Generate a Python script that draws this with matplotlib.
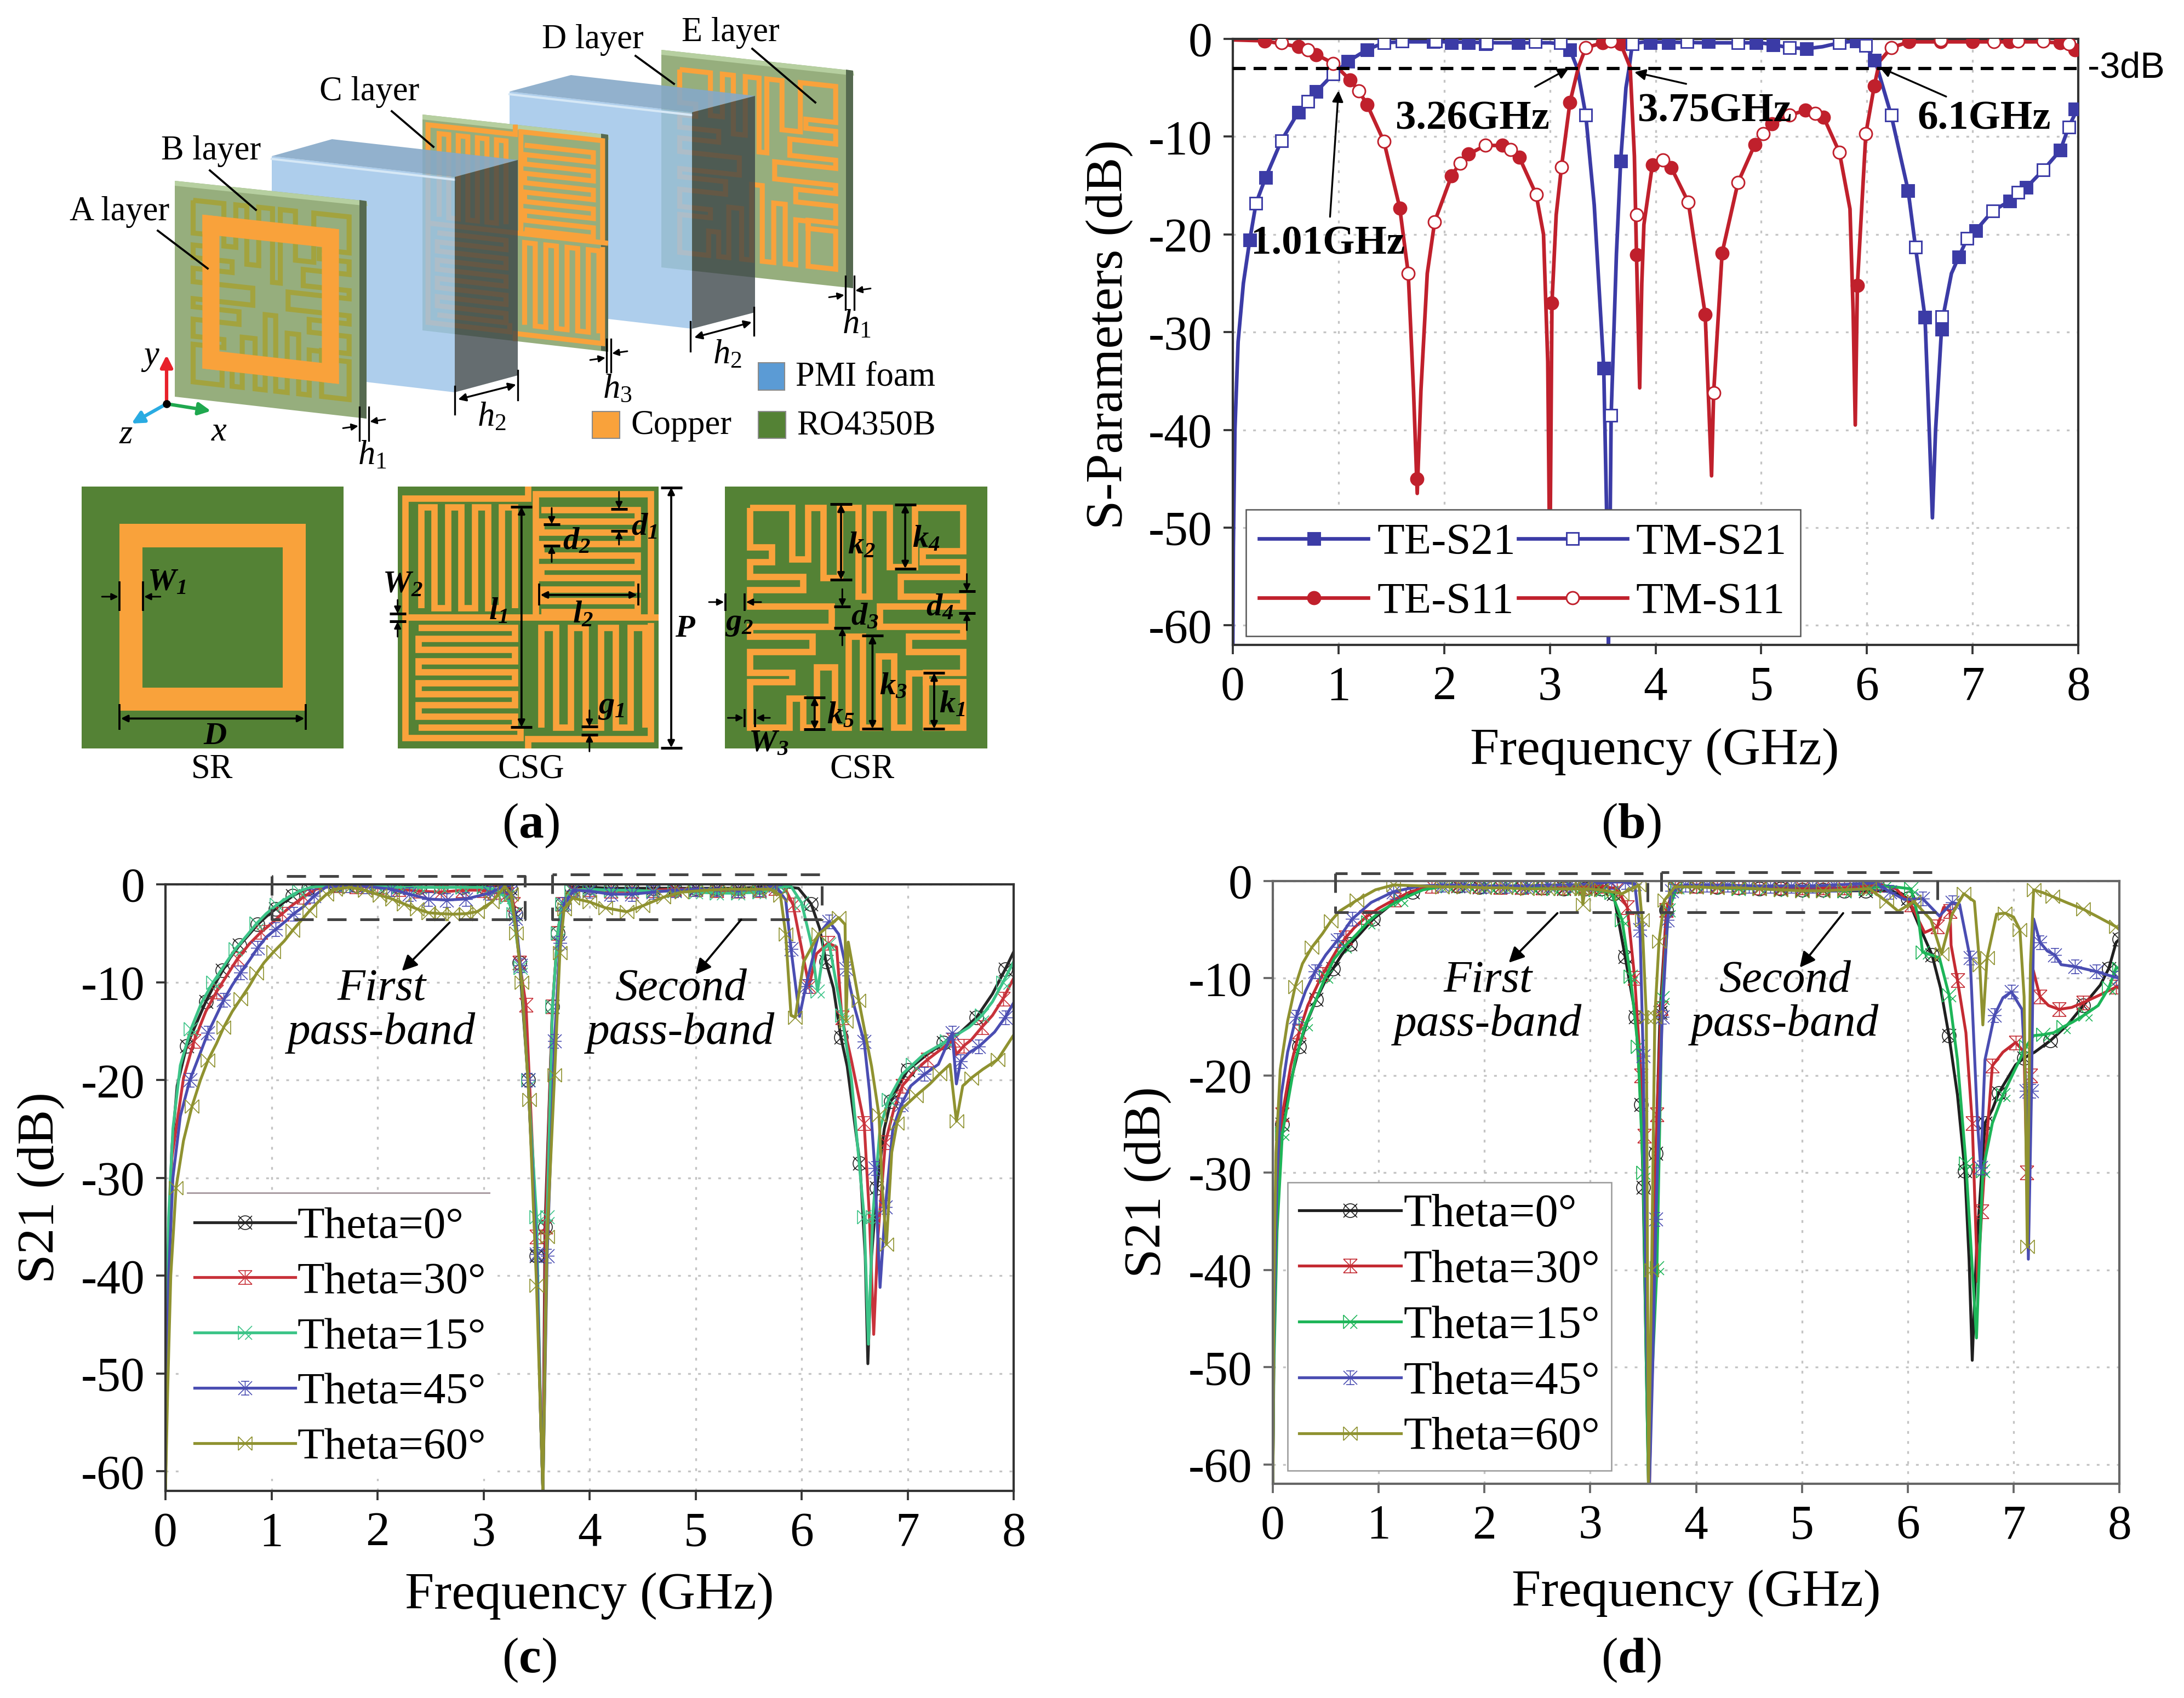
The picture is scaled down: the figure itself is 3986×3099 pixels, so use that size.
import matplotlib
matplotlib.use('Agg')
import matplotlib.pyplot as plt
import numpy as np
from matplotlib.path import Path
from matplotlib.patches import Polygon, Rectangle

W, H = 3986, 3099

plt.rcParams['font.family'] = ['Liberation Serif', 'DejaVu Sans']
plt.rcParams['axes.unicode_minus'] = False
plt.rcParams['mathtext.fontset'] = 'custom'
plt.rcParams['mathtext.rm'] = 'Liberation Serif'
plt.rcParams['mathtext.it'] = 'Liberation Serif:italic'
plt.rcParams['mathtext.bf'] = 'Liberation Serif:bold'
plt.rcParams['mathtext.cal'] = 'Liberation Serif:italic:bold'

freq_ticks = [0, 1, 2, 3, 4, 5, 6, 7, 8]
db_ticks = [0, -10, -20, -30, -40, -50, -60]

# panel b, line shapes (GHz, dB)
b_s21 = [(0, -62), (.005, -52), (.02, -40), (.05, -31), (.1, -25), (.16, -20.6), (.22, -16.8), (.31, -14.2), (.46, -10.4),
         (.62, -7.5), (.71, -6.4), (.79, -5.4), (.95, -3.6), (1.09, -2.3), (1.27, -1.1), (1.43, -.4), (1.6, -.3), (2, -.3),
         (2.5, -.4), (3, -.4), (3.1, -.5), (3.19, -1.1), (3.26, -3), (3.34, -7.8), (3.42, -17), (3.51, -33.7), (3.54, -50),
         (3.555, -62), (3.57, -50), (3.58, -38.5), (3.63, -22), (3.67, -12.5), (3.72, -5), (3.75, -3), (3.78, -.5), (3.9, -.3),
         (4.5, -.4), (5, -.4), (5.11, -.6), (5.27, -.9), (5.43, -1), (5.58, -.8), (5.74, -.4), (5.9, -.2), (5.99, -.7),
         (6.07, -2.2), (6.1, -3), (6.23, -7.8), (6.39, -15.5), (6.46, -21.3), (6.55, -28.5), (6.59, -40), (6.62, -49),
         (6.65, -40), (6.71, -29), (6.8, -24), (6.87, -22.3), (6.95, -20.4), (7.03, -19.6), (7.19, -17.6), (7.35, -16.6),
         (7.42, -15.7), (7.51, -15.2), (7.67, -13.4), (7.83, -11.4), (7.91, -9), (8, -7)]
b_s11 = [(0, -.1), (.3, -.2), (.62, -.8), (.71, -1.1), (.79, -1.6), (.95, -2.5), (1.11, -4.2), (1.19, -5.3), (1.27, -6.7),
         (1.43, -10.5), (1.58, -17.3), (1.66, -24), (1.71, -36), (1.745, -46.5), (1.78, -36), (1.84, -24), (1.91, -18.7),
         (2.07, -14), (2.15, -12.7), (2.23, -11.8), (2.39, -10.9), (2.55, -10.9), (2.63, -11.3), (2.71, -12.1), (2.87, -15.9),
         (2.94, -20), (2.98, -33), (3.0, -55), (3.02, -27), (3.06, -18), (3.11, -13.1), (3.19, -6.5), (3.27, -2.9), (3.34, -.9),
         (3.5, -.4), (3.58, -.2), (3.67, -.5), (3.76, -2.9), (3.8, -12), (3.82, -22.1), (3.85, -35.7), (3.87, -25), (3.89, -19),
         (3.97, -12.9), (4.07, -12.4), (4.15, -13.2), (4.31, -16.7), (4.47, -28.2), (4.53, -44.7), (4.55, -36.2), (4.63, -21.9),
         (4.78, -14.7), (4.94, -10.8), (5.02, -9.7), (5.1, -8.7), (5.27, -7.8), (5.42, -7.3), (5.51, -7.6), (5.59, -8),
         (5.74, -11.6), (5.84, -17.4), (5.87, -28), (5.89, -39.5), (5.91, -25.2), (5.99, -9.7), (6.07, -4.8), (6.12, -2.3),
         (6.23, -.9), (6.4, -.3), (7, -.3), (7.6, -.3), (7.83, -.4), (8, -1.3)]

# panel b, marker points
b_te_s21_marks = [(.16, -20.6), (.31, -14.2), (.62, -7.5), (.79, -5.4), (1.09, -2.3), (1.27, -1.1), (1.9, -.3), (2.07, -.4), (2.23, -.4),
                  (2.39, -.5), (2.7, -.4), (3.19, -1.1), (3.51, -33.7), (3.67, -12.5), (3.95, -.4), (4.12, -.4), (4.5, -.3),
                  (4.95, -.4), (5.11, -.6), (5.43, -1), (5.9, -.2), (6.07, -2.2), (6.39, -15.5), (6.55, -28.5), (6.71, -29.7),
                  (6.87, -22.3), (7.03, -19.6), (7.35, -16.6), (7.51, -15.2), (7.83, -11.4), (7.97, -7.2)]
b_tm_s21_marks = [(.22, -16.8), (.46, -10.4), (.71, -6.4), (.95, -3.6), (1.43, -.4), (1.6, -.2), (1.92, -.2), (2.4, -.4), (2.86, -.3),
                  (3.1, -.4), (3.34, -7.8), (3.58, -38.5), (3.78, -.5), (4.3, -.3), (4.78, -.4), (5.27, -.9), (5.74, -.4),
                  (5.99, -.7), (6.23, -7.8), (6.46, -21.3), (6.71, -28.4), (6.95, -20.4), (7.19, -17.6), (7.43, -15.7),
                  (7.67, -13.4), (7.91, -9)]
b_te_s11_marks = [(.3, -.2), (.62, -.8), (.79, -1.6), (1.11, -4.2), (1.27, -6.7), (1.58, -17.3), (1.74, -45), (2.07, -14), (2.23, -11.8),
                  (2.55, -10.9), (2.71, -12.1), (3.02, -27), (3.19, -6.5), (3.5, -.4), (3.67, -.5), (3.82, -22.1), (3.97, -12.9),
                  (4.15, -13.2), (4.47, -28.2), (4.63, -21.9), (4.94, -10.8), (5.1, -8.7), (5.42, -7.3), (5.59, -8), (5.91, -25.2),
                  (6.07, -4.8), (6.4, -.3), (6.7, -.3), (7, -.3), (7.35, -.3), (7.83, -.4), (7.97, -1.1)]
b_tm_s11_marks = [(.46, -.4), (.71, -1.1), (.95, -2.5), (1.19, -5.3), (1.43, -10.5), (1.66, -24), (1.91, -18.7), (2.15, -12.7), (2.39, -10.9),
                  (2.63, -11.3), (2.87, -15.9), (3.11, -13.1), (3.34, -.9), (3.58, -.2), (3.82, -18), (4.07, -12.4), (4.31, -16.7),
                  (4.55, -36.2), (4.78, -14.7), (5.02, -9.7), (5.27, -7.8), (5.51, -7.6), (5.74, -11.6), (5.99, -9.7), (6.23, -.9),
                  (6.7, -.1), (7.2, -.3), (7.43, -.2), (7.67, -.2), (7.91, -.5)]

# panel c, one list per angle (GHz, dB)
c_theta0 = [(0, -62), (.01, -48), (.03, -36), (.06, -27), (.11, -20.6), (.2, -16.5), (.3, -14), (.38, -12), (.46, -10.3), (.54, -8.8), (.61, -7.5),
            (.7, -6.2), (.79, -5.1), (.87, -4.1), (.95, -3.3), (1.04, -2.5), (1.12, -1.8), (1.2, -1.2), (1.28, -.7), (1.35, -.4), (1.42, -.15),
            (1.6, -.05), (1.8, -.1), (2, -.2), (2.2, -.2), (2.4, -.3), (2.6, -.3), (2.8, -.3), (3, -.2), (3.15, -.1), (3.25, -.4), (3.3, -3), (3.34, -8),
            (3.42, -20), (3.5, -38), (3.54, -55), (3.56, -62), (3.58, -35), (3.65, -12.5), (3.7, -5), (3.74, -2), (3.83, -.3), (4, -.3), (4.2, -.4),
            (4.4, -.4), (4.6, -.4), (4.8, -.4), (5, -.4), (5.2, -.4), (5.4, -.4), (5.6, -.3), (5.8, -.2), (5.97, -.4), (6.09, -2), (6.17, -4.5), (6.23, -7.9),
            (6.3, -10.6), (6.37, -15.6), (6.43, -18.6), (6.55, -28.5), (6.6, -38), (6.625, -49), (6.66, -38), (6.71, -31), (6.78, -25), (6.84, -22.2), (6.92, -20.5),
            (7, -19), (7.17, -17.5), (7.34, -16.2), (7.5, -15.1), (7.65, -13.6), (7.8, -11.2), (7.92, -8.7), (8, -6.9)]
c_theta30 = [(0, -62), (.01, -50), (.03, -38), (.06, -28), (.17, -19.8), (.27, -16), (.38, -13), (.48, -11), (.58, -9.3), (.68, -7.6), (.79, -6.1), (.9, -4.9),
             (1, -4), (1.1, -3), (1.2, -2.1), (1.3, -1.3), (1.42, -.5), (1.6, -.1), (1.8, -.2), (2, -.3), (2.2, -.5), (2.4, -.7), (2.6, -.8), (2.8, -.6),
             (3, -.6), (3.1, -.8), (3.22, -1), (3.28, -2), (3.34, -8), (3.4, -12.3), (3.5, -36), (3.54, -55), (3.56, -62), (3.585, -35), (3.65, -12.5), (3.7, -5),
             (3.74, -2), (3.83, -.5), (4, -.5), (4.2, -.7), (4.4, -.7), (4.6, -.6), (4.8, -.5), (5, -.5), (5.2, -.6), (5.4, -.7), (5.6, -.6), (5.75, -.4),
             (5.83, -.1), (5.92, -2.1), (5.99, -6), (6.07, -10.4), (6.14, -7.1), (6.25, -6), (6.33, -6.4), (6.38, -13.6), (6.47, -18), (6.59, -24.4), (6.64, -34),
             (6.68, -46), (6.72, -36), (6.79, -26.4), (6.87, -23), (6.95, -20.6), (7.07, -19), (7.19, -17.9), (7.31, -16.9), (7.43, -15.9), (7.46, -17.4), (7.53, -16.5),
             (7.6, -15.9), (7.7, -14.6), (7.8, -13.4), (7.9, -11.7), (8, -9.6)]
c_theta15 = [(0, -62), (.01, -46), (.03, -34), (.07, -25), (.14, -18.5), (.24, -14.8), (.34, -12.1), (.45, -10), (.56, -8.2), (.66, -6.6), (.77, -5.2), (.86, -4),
             (.95, -3), (1.05, -2.1), (1.16, -1.3), (1.26, -.7), (1.37, -.3), (1.6, -.1), (1.8, -.1), (2, -.2), (2.2, -.3), (2.4, -.3), (2.6, -.3), (2.8, -.3),
             (3, -.3), (3.12, -.6), (3.22, -1.3), (3.28, -3), (3.35, -8.5), (3.42, -20), (3.5, -34), (3.54, -55), (3.56, -62), (3.6, -34), (3.65, -12.5), (3.7, -5),
             (3.74, -2), (3.83, -.6), (4, -.5), (4.2, -.6), (4.4, -.6), (4.6, -.7), (4.8, -.7), (5, -.8), (5.2, -.9), (5.4, -.9), (5.6, -.8), (5.8, -.3),
             (5.9, -.2), (6, -1.9), (6.09, -6), (6.15, -10.9), (6.21, -6.6), (6.26, -6.1), (6.31, -9.1), (6.38, -13.4), (6.47, -19.9), (6.59, -34), (6.63, -47),
             (6.67, -34), (6.74, -24.9), (6.82, -22), (6.95, -19.4), (7.05, -18.4), (7.15, -17.4), (7.37, -16), (7.58, -14.6), (7.7, -13.4), (7.8, -12), (7.9, -10), (8, -7.9)]
c_theta45 = [(0, -62), (.01, -52), (.03, -40), (.07, -30), (.14, -23.7), (.23, -20), (.33, -17.2), (.4, -15.2), (.48, -13.4), (.55, -11.8), (.63, -10.3), (.71, -9),
             (.79, -7.8), (.87, -6.5), (.95, -5.4), (1.04, -4.6), (1.13, -3.8), (1.21, -3), (1.3, -2.3), (1.4, -1.2), (1.51, -.3), (1.7, -.1), (1.9, -.2), (2.13, -.5),
             (2.3, -1), (2.48, -1.5), (2.65, -1.6), (2.83, -1.5), (3.06, -.9), (3.2, -.15), (3.25, -.8), (3.3, -3.5), (3.35, -8.3), (3.42, -20), (3.5, -37.8),
             (3.54, -55), (3.56, -62), (3.6, -38), (3.67, -16), (3.72, -6), (3.76, -2), (3.85, -.6), (4, -.7), (4.2, -1), (4.4, -1), (4.6, -.8), (4.8, -.6), (5, -.5),
             (5.2, -.5), (5.4, -.6), (5.6, -.5), (5.75, -.1), (5.85, -1.6), (5.9, -6.6), (5.98, -13.5), (6.04, -10.4), (6.16, -5.1), (6.26, -3.8), (6.35, -5.1), (6.42, -8.6),
             (6.5, -12.6), (6.59, -16.1), (6.64, -21.1), (6.69, -29), (6.74, -41.2), (6.79, -33), (6.86, -25), (6.94, -22.5), (7.03, -20.6), (7.16, -19.4), (7.29, -18.4),
             (7.42, -15.2), (7.46, -20.4), (7.5, -18.1), (7.58, -17.2), (7.67, -16.6), (7.82, -15.1), (7.92, -13.6), (8, -12.1)]
c_theta60 = [(0, -62), (.02, -52), (.05, -40), (.1, -31), (.17, -26.2), (.25, -22.7), (.33, -20), (.4, -18), (.48, -16.3), (.55, -14.6), (.63, -13), (.71, -11.7),
             (.79, -10.4), (.86, -9.1), (.93, -8), (1.02, -6.9), (1.12, -5.8), (1.2, -4.7), (1.28, -3.7), (1.36, -2.7), (1.44, -1.8), (1.52, -1), (1.6, -.5), (1.74, -.3),
             (1.88, -.6), (2.02, -1.1), (2.14, -1.5), (2.25, -2), (2.37, -2.5), (2.48, -2.9), (2.6, -3), (2.71, -3.05), (2.83, -3), (2.94, -2.8), (3.08, -1.8), (3.2, -.2),
             (3.26, -1), (3.31, -5), (3.36, -10), (3.43, -22), (3.5, -41), (3.54, -55), (3.56, -62), (3.6, -36), (3.67, -19.5), (3.72, -7), (3.76, -2.5), (3.84, -1.4),
             (4, -1.8), (4.15, -2.4), (4.35, -2.8), (4.5, -2.2), (4.7, -1.3), (4.87, -.8), (5.1, -.6), (5.3, -.5), (5.5, -.5), (5.7, -.5), (5.8, -1.1), (5.85, -5.1),
             (5.9, -13.4), (5.94, -13.6), (6.02, -7.9), (6.16, -5.1), (6.26, -4.2), (6.35, -3.4), (6.41, -4.1), (6.42, -14), (6.44, -5.9), (6.54, -11.9), (6.66, -18.6),
             (6.73, -23.6), (6.76, -31), (6.8, -36.8), (6.85, -27.4), (6.9, -24.4), (6.95, -22.9), (7.08, -21.6), (7.21, -20.4), (7.3, -19.4), (7.4, -18.4), (7.46, -24.2),
             (7.52, -20.6), (7.6, -19.8), (7.71, -18.9), (7.85, -17.9), (8, -15.4)]

# panel d, one list per angle (GHz, dB)
d_theta0 = [(0, -62), (.01, -48), (.04, -34), (.09, -25), (.17, -20.6), (.25, -17), (.33, -14.3), (.41, -12.2), (.49, -10.4), (.57, -9), (.65, -7.6), (.73, -6.5),
            (.81, -5.6), (.95, -3.9), (1.12, -2.4), (1.32, -1.1), (1.56, -.4), (1.75, -.5), (1.95, -.6), (2.15, -.6), (2.35, -.7), (2.55, -.7), (2.75, -.8), (2.95, -.8),
            (3.1, -.8), (3.22, -1.3), (3.33, -7.8), (3.43, -14), (3.48, -23), (3.5, -31.5), (3.53, -50), (3.55, -62), (3.58, -50), (3.62, -28), (3.66, -13.5), (3.72, -3),
            (3.8, -.5), (4, -.5), (4.2, -.6), (4.4, -.7), (4.6, -.8), (4.8, -.8), (5, -.9), (5.2, -.9), (5.4, -1), (5.6, -1), (5.85, -1), (6, -1.8), (6.1, -4.4), (6.23, -7.6),
            (6.31, -11), (6.39, -15.9), (6.47, -22), (6.54, -29.8), (6.58, -39), (6.61, -49.3), (6.65, -38), (6.73, -24.9), (6.8, -23.5), (6.86, -21.8), (7.02, -18.9),
            (7.1, -18.2), (7.2, -17.6), (7.35, -16.4), (7.51, -14.8), (7.66, -12.8), (7.82, -10.7), (7.9, -9), (7.97, -6.3), (8, -6)]
d_theta30 = [(0, -62), (.01, -48), (.04, -33), (.09, -24), (.17, -19), (.25, -15.5), (.33, -12.8), (.47, -9.6), (.61, -7), (.69, -5.8), (.77, -4.8), (.88, -3.7),
             (1, -2.8), (1.15, -1.9), (1.3, -1.1), (1.5, -.5), (1.75, -.4), (1.95, -.5), (2.15, -.6), (2.35, -.6), (2.55, -.7), (2.75, -.7), (2.95, -.6), (3.1, -.5),
             (3.25, -.8), (3.35, -2.7), (3.42, -10), (3.48, -20), (3.51, -26.2), (3.53, -48), (3.56, -62), (3.59, -45), (3.63, -24), (3.67, -13.1), (3.72, -3),
             (3.8, -.5), (4, -.5), (4.2, -.5), (4.4, -.6), (4.6, -.7), (4.8, -.7), (5, -.7), (5.2, -.7), (5.4, -.7), (5.6, -.5), (5.75, -.4), (5.89, -.8), (6.03, -2.4),
             (6.16, -5.3), (6.28, -4.7), (6.34, -2.7), (6.4, -3.1), (6.41, -6.6), (6.47, -10.2), (6.55, -15.6), (6.61, -24.9), (6.66, -41.2), (6.7, -34), (6.73, -28.8),
             (6.8, -19), (6.9, -17.6), (7.02, -16.6), (7.1, -17.6), (7.125, -30), (7.14, -38), (7.16, -20), (7.18, -8.9), (7.25, -11.9), (7.33, -12.8), (7.43, -13.2),
             (7.55, -13), (7.66, -12.5), (7.8, -11.8), (7.97, -10.9), (8, -11)]
d_theta15 = [(0, -62), (.01, -50), (.04, -36), (.09, -26), (.21, -18.5), (.31, -14.7), (.42, -11.9), (.5, -9.8), (.58, -8), (.68, -6.7), (.79, -5.5), (.9, -4.2),
             (1.02, -3.1), (1.21, -1.9), (1.42, -.9), (1.65, -.5), (1.85, -.5), (2.05, -.6), (2.25, -.6), (2.45, -.7), (2.65, -.8), (2.85, -.8), (3.05, -.9), (3.2, -1.2),
             (3.3, -4), (3.38, -9.8), (3.45, -17), (3.5, -30), (3.53, -50), (3.55, -62), (3.58, -52), (3.63, -39.8), (3.68, -12), (3.74, -3), (3.82, -.6), (4, -.6),
             (4.2, -.7), (4.4, -.8), (4.6, -.8), (4.8, -.9), (5, -1), (5.2, -1), (5.4, -1), (5.6, -.8), (5.8, -.5), (6.03, -.8), (6.1, -3.7), (6.14, -7.3), (6.3, -7.9),
             (6.39, -11.7), (6.47, -18.4), (6.55, -29), (6.6, -38), (6.65, -47), (6.68, -38), (6.71, -29.8), (6.8, -24.9), (6.9, -22), (7, -19.7), (7.12, -17), (7.19, -15.9),
             (7.28, -15.8), (7.38, -15.6), (7.47, -15), (7.56, -14.5), (7.68, -13.7), (7.8, -12.8), (7.9, -11), (7.97, -8.9), (8, -9)]
d_theta45 = [(0, -62), (.01, -46), (.04, -30), (.08, -22), (.14, -17.6), (.22, -14), (.31, -11.3), (.4, -9.3), (.5, -7.6), (.61, -6.1), (.68, -5), (.75, -3.9), (.93, -2.2),
             (1.14, -1.1), (1.4, -.5), (1.6, -.4), (1.8, -.4), (2, -.5), (2.2, -.5), (2.4, -.5), (2.6, -.4), (2.8, -.4), (3, -.3), (3.2, -.1), (3.33, -.1), (3.42, -.3),
             (3.47, -5), (3.5, -18), (3.53, -45), (3.56, -62), (3.59, -50), (3.62, -34.8), (3.68, -14), (3.73, -4), (3.77, -1), (3.9, -.4), (4.1, -.4), (4.3, -.4), (4.5, -.5),
             (4.7, -.5), (4.9, -.5), (5.1, -.5), (5.3, -.4), (5.5, -.3), (5.7, -.2), (5.83, -1.1), (5.97, -1.9), (6.14, -1.8), (6.3, -3.6), (6.42, -2.2), (6.49, -2.4), (6.59, -7.9),
             (6.66, -24.9), (6.69, -29.5), (6.73, -18.4), (6.82, -13.8), (6.9, -12), (6.98, -11.4), (7.08, -13.2), (7.12, -21.6), (7.14, -38.9), (7.17, -21.6), (7.19, -3.9),
             (7.25, -6.3), (7.32, -7.2), (7.39, -7.6), (7.45, -8.6), (7.58, -8.8), (7.7, -9.1), (7.78, -9.3), (7.9, -9.7), (8, -10)]
d_theta60 = [(0, -62), (.01, -42), (.03, -28), (.07, -19.4), (.14, -14.4), (.21, -10.9), (.28, -8.5), (.37, -6.8), (.47, -5.4), (.55, -4.1), (.63, -3.1), (.79, -2), (.97, -.9),
             (1.14, -.4), (1.4, -.5), (1.6, -.6), (1.8, -.6), (2, -.7), (2.2, -.7), (2.4, -.8), (2.6, -.8), (2.8, -.8), (2.92, -.8), (2.93, -2.4), (2.95, -.8), (3.1, -.9), (3.3, -1.3),
             (3.46, -.4), (3.49, -4), (3.53, -14), (3.55, -62), (3.58, -40), (3.61, -14), (3.65, -6.2), (3.7, -2), (3.8, -.6), (4, -.6), (4.2, -.7), (4.4, -.7), (4.6, -.8),
             (4.8, -.9), (5, -1), (5.2, -1), (5.4, -.9), (5.64, -.8), (5.8, -2.1), (5.91, -3.1), (6.06, -2.1), (6.22, -4), (6.32, -7.5), (6.42, -3.4), (6.53, -1.3), (6.63, -2.1),
             (6.68, -8.6), (6.71, -14.8), (6.75, -7.9), (6.84, -3.4), (6.92, -3.3), (7, -3.7), (7.06, -5), (7.1, -11.9), (7.13, -37.6), (7.16, -8.6), (7.19, -.9), (7.28, -1.2),
             (7.37, -1.6), (7.5, -2.2), (7.66, -2.9), (7.8, -3.7), (7.97, -4.7), (8, -5)]

theta_labels = ['Theta=0°', 'Theta=30°', 'Theta=15°', 'Theta=45°', 'Theta=60°']
c_theta = [c_theta0, c_theta30, c_theta15, c_theta45, c_theta60]
d_theta = [d_theta0, d_theta30, d_theta15, d_theta45, d_theta60]


def box_axes(fig, left, right, top, bottom, edge='#333333'):
    ax = fig.add_axes([left / W, 1 - bottom / H, (right - left) / W, (bottom - top) / H])
    ax.set_xlim(0, 8)
    ax.set_ylim(-62, 0)
    ax.set_xticks(freq_ticks)
    ax.set_yticks(db_ticks)
    ax.tick_params(labelsize=21, length=4, width=.9, pad=5, color=edge)
    ax.grid(True, color='#c4c4c4', lw=.8, ls=(0, (1.5, 4)))
    ax.set_axisbelow(True)
    for s in ax.spines.values():
        s.set_linewidth(1.0)
        s.set_color(edge)
    return ax


def xy(points):
    a = np.array(points, dtype=float)
    return a[:, 0], a[:, 1]


# markers for the theta curves
M, L = Path.MOVETO, Path.LINETO
cross = [(-1, -1), (1, 1), (-1, 1), (1, -1)]
cross_c = [M, L, M, L]
mark_o = Path.make_compound_path(Path.unit_circle(), Path(cross, cross_c))
mark_r = Path(cross + [(-1, 1), (1, 1), (-1, -1), (1, -1), (0, -1), (0, 1)], cross_c + [M, L, M, L, M, L])
mark_g = Path(cross + [(-1, -1), (-1, 1), (0, -1), (1, 0)], cross_c + [M, L, M, L])
mark_b = Path.make_compound_path(Path(cross, cross_c), Path([(-1, 0), (1, 0), (0, -1), (0, 1)], cross_c),
                                 Path([(-.6, -1), (.6, -1), (-.6, 1), (.6, 1)], cross_c))
mark_y = Path(cross + [(-1, -1), (-1, 1), (1, -1), (1, 1)], cross_c + [M, L, M, L])


def theta_curves(ax, curves, colors):
    marks = [mark_o, mark_r, mark_g, mark_b, mark_y]
    for pts, lab, col, mk in zip(curves, theta_labels, colors, marks):
        f, db = xy(pts)
        # flat top: every point carries a marker, elsewhere every other one, none deep in the notches
        every = [i for i in range(len(f)) if db[i] > -42 and f[i] > .08 and (i % 2 == 1 or 1.6 <= f[i] <= 5.8)]
        ax.plot(f, db, color=col, lw=1.25, label=lab, marker=mk, markevery=every, ms=6,
                mfc='none', mew=.4, solid_joinstyle='round')


def dash_box(ax, x0, x1, y0, y1):
    ax.plot([x0, x0, x1, x1, x0], [y0, y1, y1, y0, y0], color='#444444', lw=1.2, ls=(0, (7, 5)), clip_on=False, zorder=6)


def arrow(ax, a, b, style='-|>', lw=.9, ms=14, color='black'):
    ax.annotate('', xy=b, xytext=a, arrowprops=dict(arrowstyle=style, lw=lw, color=color, shrinkA=0, shrinkB=0, mutation_scale=ms), zorder=9)


fig = plt.figure(figsize=(W / 300, H / 300), dpi=300, facecolor='white')

# ---------- schematic and all free text, in pixel coordinates ----------
sk = fig.add_axes([0, 0, 1, 1], zorder=0)
sk.set_xlim(0, W)
sk.set_ylim(H, 0)
sk.axis('off')

ORANGE = '#f9a23b'
GREEN = '#548235'


def comb_v(x0, x1, y0, y1, n):
    pts = []
    for i in range(n):
        x = x0 + (x1 - x0) * i / (n - 1)
        pts += [(x, y1), (x, y0)] if i % 2 == 0 else [(x, y0), (x, y1)]
    return pts


def comb_h(x0, x1, y0, y1, n):
    pts = []
    for i in range(n):
        y = y0 + (y1 - y0) * i / (n - 1)
        pts += [(x0, y), (x1, y)] if i % 2 == 0 else [(x1, y), (x0, y)]
    return pts


csg_lines = [comb_v(.09, .45, .08, .465, 8), comb_h(.55, .92, .09, .48, 10), comb_h(.08, .45, .54, .92, 10), comb_v(.55, .95, .54, .92, 8),
             [(.5, 0), (.5, .045), (.03, .045), (.03, .5)], [(.03, .5), (1, .5)], [(.53, .5), (.53, .03), (.97, .03), (.97, .5)],
             [(.03, .5), (.03, .96), (.47, .96), (.47, .92)], [(.5, 1), (.5, .965), (.97, .965), (.97, .52)]]

csr_trace = [(1105, 195), (1172, 195), (1172, 432), (1198, 432), (1198, 195), (1222, 195), (1222, 520), (1248, 520), (1248, 195), (1278, 195), (1278, 605),
             (1295, 605), (1295, 195), (1328, 195), (1328, 468), (1368, 468), (1368, 195), (1445, 195), (1445, 395), (1380, 395), (1380, 445), (1445, 445),
             (1445, 515), (1345, 515), (1345, 605), (1445, 605), (1445, 650), (1312, 650), (1312, 745), (1445, 745), (1445, 790), (1358, 790), (1358, 860),
             (1445, 860), (1445, 955), (1385, 955), (1385, 1000), (1445, 1000), (1445, 1210), (1385, 1210), (1385, 960), (1358, 960), (1358, 1210), (1335, 1210),
             (1335, 880), (1310, 880), (1310, 1210), (1285, 1210), (1285, 790), (1262, 790), (1262, 1210), (1240, 1210), (1240, 930), (1212, 930), (1212, 1210),
             (1190, 1210), (1190, 1075), (1168, 1075), (1168, 1210), (1105, 1210), (1105, 1000), (1172, 1000), (1172, 955), (1105, 955), (1105, 860), (1205, 860),
             (1205, 790), (1105, 790), (1105, 745), (1235, 745), (1235, 650), (1105, 650), (1105, 575), (1190, 575), (1190, 515), (1105, 515), (1105, 445),
             (1140, 445), (1140, 378), (1105, 378), (1105, 195)]
csr_lines = [[((x - 1065) / 418, (y - 97) / 1208) for x, y in csr_trace]]

sr_rects = [(.144, .143, .856, .233), (.144, .767, .856, .855), (.144, .143, .233, .855), (.767, .143, .856, .855)]


def bilinear(q, u, v):
    tl, tr, br, bl = [np.array(c, dtype=float) for c in q]
    return (1 - v) * ((1 - u) * tl + u * tr) + v * ((1 - u) * bl + u * br)


def draw_lines(q, lines, color, lw, z):
    for ln in lines:
        p = np.array([bilinear(q, u, v) for u, v in ln])
        sk.plot(p[:, 0], p[:, 1], color=color, lw=lw, zorder=z, solid_joinstyle='miter', solid_capstyle='butt')


def draw_rects(q, rects, color, z):
    for u0, v0, u1, v1 in rects:
        p = [bilinear(q, u0, v0), bilinear(q, u1, v0), bilinear(q, u1, v1), bilinear(q, u0, v1)]
        sk.add_patch(Polygon(p, closed=True, fc=color, ec='none', zorder=z))


def board(q, z):
    sk.add_patch(Polygon(q, closed=True, fc='#96ae7d', ec='none', zorder=z))
    tl, tr, br, bl = q
    sk.add_patch(Polygon([tl, tr, (tr[0] + 2, tr[1] + 9), (tl[0], tl[1] + 9)], closed=True, fc='#b6cfa0', ec='none', zorder=z + .1))
    sk.add_patch(Polygon([(tr[0] - 13, tr[1] - 2), tr, br, (br[0] - 13, br[1] - 2)], closed=True, fc='#566a50', ec='none', zorder=z + .1))


def foam(front, back_tl, back_tr, z):
    tl, tr, br, bl = front
    dx, dy = back_tr[0] - tr[0], back_tr[1] - tr[1]
    sk.add_patch(Polygon(front, closed=True, fc='#9cc4e8', ec='none', alpha=.82, zorder=z))
    sk.add_patch(Polygon([tl, back_tl, back_tr, tr], closed=True, fc='#86a9c8', ec='none', alpha=.9, zorder=z))
    sk.plot([tl[0], tr[0]], [tl[1] + 5, tr[1] + 5], color='#d6e8f6', lw=1.0, zorder=z + .1)
    sk.add_patch(Polygon([tr, back_tr, (br[0] + dx, br[1] + dy), br], closed=True, fc='#3a4448', ec='none', alpha=.78, zorder=z + .1))


board_e = [(1207, 91), (1557, 129), (1557, 526), (1207, 488)]
board_c = [(771, 209), (1110, 246), (1110, 642), (771, 603)]
board_a = [(319, 330), (669, 367), (669, 764), (319, 724)]
foam_2 = [(930, 167), (1263, 205), (1263, 600), (930, 561)]
foam_1 = [(496, 285), (830, 323), (830, 716), (496, 677)]

board(board_e, 1)
draw_lines(board_e, csr_lines, ORANGE, 2.2, 1.2)
foam(foam_2, (1042, 137), (1378, 175), 2)
board(board_c, 3)
draw_lines(board_c, csg_lines, ORANGE, 2.2, 3.2)
foam(foam_1, (606, 254), (945, 292), 4)
board(board_a, 5)
draw_lines(board_a, csr_lines, '#a3a33e', 2.2, 5.2)
draw_rects(board_a, sr_rects, ORANGE, 5.3)

for a, b in [((1373, 89), (1488, 187)), ((1160, 102), (1230, 153)), ((715, 203), (791, 268)), ((383, 311), (467, 383)), ((288, 421), (379, 490))]:
    sk.plot([a[0], b[0]], [a[1], b[1]], color='black', lw=.9, zorder=9)
for txt, x, y in [('E layer', 1333, 60), ('D layer', 1082, 73), ('C layer', 674, 168), ('B layer', 385, 276), ('A layer', 218, 387)]:
    sk.text(x, y, txt, fontsize=15, ha='center', va='center', zorder=10)

# coordinate triad
arrow(sk, (304, 737), (304, 648), lw=1.5, ms=11, color='#e8202a')
arrow(sk, (304, 737), (385, 750), lw=1.5, ms=11, color='#1fa84f')
arrow(sk, (304, 737), (240, 773), lw=1.5, ms=11, color='#29abe2')
sk.plot([304], [737], 'o', color='black', ms=2.5, zorder=10)
for txt, x, y in [('y', 276, 650), ('x', 400, 789), ('z', 230, 794)]:
    sk.text(x, y, txt, fontsize=15, style='italic', ha='center', va='center', zorder=10)

# thickness marks on the boards
for x0, x1, y0, y1 in [(656, 673, 743, 804), (1107, 1115, 619, 679), (1543, 1559, 504, 565)]:
    sk.plot([x0, x0], [y0, y1], color='black', lw=.8, zorder=9)
    sk.plot([x1, x1], [y0, y1], color='black', lw=.8, zorder=9)
    arrow(sk, (x0 - 30, (y0 + y1) / 2 + 8), (x0 - 2, (y0 + y1) / 2 + 4), lw=.7, ms=6)
    arrow(sk, (x1 + 30, (y0 + y1) / 2 - 8), (x1 + 2, (y0 + y1) / 2 - 4), lw=.7, ms=6)
for x0, y00, y01, x1, y10, y11, a, b in [(830, 705, 756, 945, 676, 730, (836, 729), (942, 702)), (1260, 587, 641, 1376, 561, 612, (1267, 616), (1372, 588))]:
    sk.plot([x0, x0], [y00, y01], color='black', lw=.8, zorder=9)
    sk.plot([x1, x1], [y10, y11], color='black', lw=.8, zorder=9)
    arrow(sk, a, b, style='<|-|>', lw=.8, ms=7)
for txt, x, y in [(r'$h_{\mathit{1}}$', 679, 832), (r'$h_{\mathit{2}}$', 897, 762), (r'$h_{\mathit{3}}$', 1127, 711), (r'$h_{\mathit{2}}$', 1327, 648), (r'$h_{\mathit{1}}$', 1563, 593)]:
    sk.text(x, y, txt, fontsize=15, ha='center', va='center', zorder=10)

# material key
for x0, y0, x1, y1, col, txt in [(1384, 662, 1432, 712, '#5b9bd5', 'PMI foam'), (1081, 751, 1131, 800, ORANGE, 'Copper'), (1384, 751, 1434, 800, GREEN, 'RO4350B')]:
    sk.add_patch(Rectangle((x0, y0), x1 - x0, y1 - y0, fc=col, ec='#8a8a8a', lw=.5, zorder=9))
    sk.text(x1 + 20, (y0 + y1) / 2 + 2, txt, fontsize=15, ha='left', va='center', zorder=10)

# flat unit cells
sr_box = [(149, 888), (627, 888), (627, 1366), (149, 1366)]
csg_box = [(726, 888), (1202, 888), (1202, 1366), (726, 1366)]
csr_box = [(1323, 888), (1802, 888), (1802, 1366), (1323, 1366)]
for q in (sr_box, csg_box, csr_box):
    sk.add_patch(Polygon(q, closed=True, fc=GREEN, ec='none', zorder=1))
draw_rects(sr_box, sr_rects, ORANGE, 2)
draw_lines(csg_box, csg_lines, ORANGE, 2.8, 2)
draw_lines(csr_box, csr_lines, ORANGE, 2.8, 2)
for txt, x, y in [('SR', 387, 1404), ('CSG', 969, 1404), ('CSR', 1573, 1404)]:
    sk.text(x, y, txt, fontsize=15, ha='center', va='center')


def z2(x, y):
    return (100 + x * 1.148, 850 + y * .395)


def seg(x0, y0, x1, y1, lw=.9):
    a, b = z2(x0, y0), z2(x1, y1)
    sk.plot([a[0], b[0]], [a[1], b[1]], color='black', lw=lw, zorder=9, solid_capstyle='butt')


def dbl(x0, y0, x1, y1, bars=True):
    arrow(sk, z2(x0, y0), z2(x1, y1), style='<|-|>', lw=.9, ms=6)
    if bars and x0 == x1:
        seg(x0 - 17, y0, x0 + 17, y0, 1.2)
        seg(x1 - 17, y1, x1 + 17, y1, 1.2)


def gap(bx, y0, y1, a0, a1):
    seg(bx - 13, y0, bx + 13, y0, 1.2)
    seg(bx - 13, y1, bx + 13, y1, 1.2)
    arrow(sk, z2(bx, a0), z2(bx, y0), lw=.7, ms=6)
    arrow(sk, z2(bx, a1), z2(bx, y1), lw=.7, ms=6)


def hgap(x0, x1, y0, y1, a0, a1, ya):
    seg(x0, y0, x0, y1)
    seg(x1, y0, x1, y1)
    arrow(sk, z2(a0, ya), z2(x0 - 2, ya), lw=.7, ms=6)
    arrow(sk, z2(a1, ya), z2(x1 + 2, ya), lw=.7, ms=6)


hgap(103, 140, 535, 670, 75, 168, 605)
seg(103, 1100, 103, 1220)
seg(399, 1100, 399, 1220)
dbl(105, 1168, 397, 1168, bars=False)
dbl(980, 100, 980, 1303)
dbl(742, 190, 742, 1208)
seg(770, 545, 770, 645)
seg(928, 545, 928, 645)
dbl(772, 597, 926, 597, bars=False)
gap(897, 200, 302, 120, 365)
gap(790, 270, 370, 195, 445)
gap(545, 683, 720, 620, 790)
gap(850, 1205, 1242, 1130, 1320)
dbl(1250, 178, 1250, 527)
dbl(1352, 180, 1352, 475)
dbl(1300, 785, 1300, 1215)
dbl(1398, 958, 1398, 1215)
dbl(1208, 1070, 1208, 1218)
hgap(1066, 1097, 590, 670, 1040, 1123, 630)
hgap(1097, 1113, 1125, 1208, 1070, 1137, 1165)
gap(1252, 650, 750, 570, 830)
gap(1450, 580, 680, 500, 760)

dim_labels = [(r'$\mathcal{W}_{\mathcal{1}}$', 178, 540), (r'$\mathcal{D}$', 255, 1250), (r'$\mathcal{W}_{\mathcal{2}}$', 553, 550), (r'$\mathcal{d}_{\mathcal{2}}$', 830, 350),
              (r'$\mathcal{d}_{\mathcal{1}}$', 937, 285), (r'$\mathcal{l}_{\mathcal{1}}$', 705, 675), (r'$\mathcal{l}_{\mathcal{2}}$', 840, 690), (r'$\mathcal{P}$', 1003, 755),
              (r'$\mathcal{g}_{\mathcal{1}}$', 885, 1115), (r'$\mathcal{k}_{\mathcal{2}}$', 1283, 370), (r'$\mathcal{k}_{\mathcal{4}}$', 1385, 340), (r'$\mathcal{g}_{\mathcal{2}}$', 1088, 730),
              (r'$\mathcal{d}_{\mathcal{3}}$', 1288, 700), (r'$\mathcal{d}_{\mathcal{4}}$', 1407, 655), (r'$\mathcal{k}_{\mathcal{3}}$', 1333, 1020), (r'$\mathcal{k}_{\mathcal{1}}$', 1427, 1105),
              (r'$\mathcal{k}_{\mathcal{5}}$', 1250, 1155), (r'$\mathcal{W}_{\mathcal{3}}$', 1135, 1285)]
for txt, x, y in dim_labels:
    px, py = z2(x, y)
    sk.text(px, py, txt, fontsize=14, ha='center', va='center', zorder=10)

for txt, x, y in [(r'($\mathbf{a}$)', 968, 1507), (r'($\mathbf{b}$)', 2977, 1507), (r'($\mathbf{c}$)', 966, 3030), (r'($\mathbf{d}$)', 2977, 3030)]:
    sk.text(x, y, txt, fontsize=22, ha='center', va='center')

sk.text(3020, 1372, 'Frequency (GHz)', fontsize=23, ha='center', va='center')
sk.text(2025, 610, 'S-Parameters (dB)', fontsize=23, rotation=90, ha='center', va='center')
sk.text(1076, 2913, 'Frequency (GHz)', fontsize=23, ha='center', va='center')
sk.text(75, 2167, 'S21 (dB)', fontsize=23, rotation=90, ha='center', va='center')
sk.text(3096, 2908, 'Frequency (GHz)', fontsize=23, ha='center', va='center')
sk.text(2095, 2158, 'S21 (dB)', fontsize=23, rotation=90, ha='center', va='center')

# ---------- panel b ----------
BLUE, RED = '#3b3ba6', '#c0202c'
ax_b = box_axes(fig, 2250, 3793, 71, 1177)
f, db = xy(b_s21)
ax_b.plot(f, db, color=BLUE, lw=1.6)
f, db = xy(b_s11)
ax_b.plot(f, db, color=RED, lw=1.6)
series_b = [(b_te_s21_marks, BLUE, 's', BLUE, 'TE-S21'), (b_te_s11_marks, RED, 'o', RED, 'TE-S11'),
            (b_tm_s21_marks, BLUE, 's', 'white', 'TM-S21'), (b_tm_s11_marks, RED, 'o', 'white', 'TM-S11')]
handles = []
for pts, col, mk, mfc, lab in series_b:
    f, db = xy(pts)
    ax_b.plot(f, db, ls='none', marker=mk, ms=5.5, mfc=mfc, mec=col, mew=.7, zorder=4)
    handles.append(plt.Line2D([], [], color=col, lw=1.6, marker=mk, ms=5.5, mfc=mfc, mec=col, mew=.7, label=lab))
ax_b.plot([0, 8], [-3, -3], color='black', lw=1.4, ls=(0, (4, 2.5)), zorder=5)
ax_b.text(8.09, -3, '-3dB', fontsize=16, family='Liberation Sans', ha='left', va='center', clip_on=False)
for txt, x, y in [('1.01GHz', .9, -21), ('3.26GHz', 2.27, -8.2), ('3.75GHz', 4.56, -7.4), ('6.1GHz', 7.11, -8.2)]:
    ax_b.text(x, y, txt, fontsize=18, weight='bold', ha='center', va='center', zorder=7)
arrow(ax_b, (.92, -18.2), (1.0, -5.3), lw=.8, ms=10)
arrow(ax_b, (2.86, -4.9), (3.18, -3), lw=.8, ms=10)
arrow(ax_b, (4.29, -4.6), (3.8, -3.4), lw=.8, ms=10)
arrow(ax_b, (6.75, -5.9), (6.12, -2.9), lw=.8, ms=10)
leg = ax_b.legend(handles=handles, ncols=2, loc='upper left', bbox_to_anchor=(2274 / W, 1 - 930 / H), bbox_transform=fig.transFigure,
                  borderaxespad=0, fontsize=19.5, handlelength=2.45, handletextpad=.2, columnspacing=.05, labelspacing=.42,
                  borderpad=.3, fancybox=False, framealpha=1, edgecolor='#555555', facecolor='white')
leg.get_frame().set_linewidth(.6)
leg.set_zorder(6)

# ---------- panel c ----------
c_colors = ['#262626', '#c8323a', '#3cc488', '#4a4db2', '#8f9230']
ax_c = box_axes(fig, 302, 1850, 1614, 2721)
theta_curves(ax_c, c_theta, c_colors)
dash_box(ax_c, 1, 3.39, .83, -3.6)
dash_box(ax_c, 3.65, 6.19, 1, -3.6)
arrow(ax_c, (2.68, -3.9), (2.23, -8.85))
arrow(ax_c, (5.43, -3.6), (5, -9.2))
for txt, x, y in [('First', 2.04, -10.7), ('pass-band', 2.04, -15.2), ('Second', 4.86, -10.7), ('pass-band', 4.86, -15.2)]:
    ax_c.text(x, y, txt, fontsize=20, style='italic', ha='center', va='center', zorder=7)
leg = ax_c.legend(loc='upper left', bbox_to_anchor=(335 / W, 1 - 2182 / H), bbox_transform=fig.transFigure, borderaxespad=0, fontsize=19.5,
                  handlelength=2.26, handletextpad=.05, labelspacing=.33, borderpad=.25, framealpha=1, edgecolor='none', facecolor='white', fancybox=False)
leg.set_zorder(3)
fig.add_artist(plt.Line2D([342, 893], [2177, 2177], color='#a89aa0', lw=.7, transform=sk.transData, zorder=10))

# ---------- panel d ----------
d_colors = ['#1f1f1f', '#c42a32', '#1db558', '#4a4db2', '#8f9230']
ax_d = box_axes(fig, 2323, 3868, 1608, 2708, edge='#666666')
theta_curves(ax_d, d_theta, d_colors)
dash_box(ax_d, .59, 3.54, .78, -3.2)
dash_box(ax_d, 3.67, 6.28, .9, -3.2)
arrow(ax_d, (2.69, -3.3), (2.23, -8.4))
arrow(ax_d, (5.39, -3.3), (4.98, -8.9))
for txt, x, y in [('First', 2.03, -10.3), ('pass-band', 2.03, -14.8), ('Second', 4.84, -10.3), ('pass-band', 4.84, -14.8)]:
    ax_d.text(x, y, txt, fontsize=20, style='italic', ha='center', va='center', zorder=7)
leg = ax_d.legend(loc='upper left', bbox_to_anchor=(2350 / W, 1 - 2158 / H), bbox_transform=fig.transFigure, borderaxespad=0, fontsize=20.3,
                  handlelength=2.2, handletextpad=.05, labelspacing=.29, borderpad=.25, framealpha=1, edgecolor='#999999', facecolor='white', fancybox=False)
leg.get_frame().set_linewidth(.6)
leg.set_zorder(3)

fig.savefig('out.png', dpi=300)
